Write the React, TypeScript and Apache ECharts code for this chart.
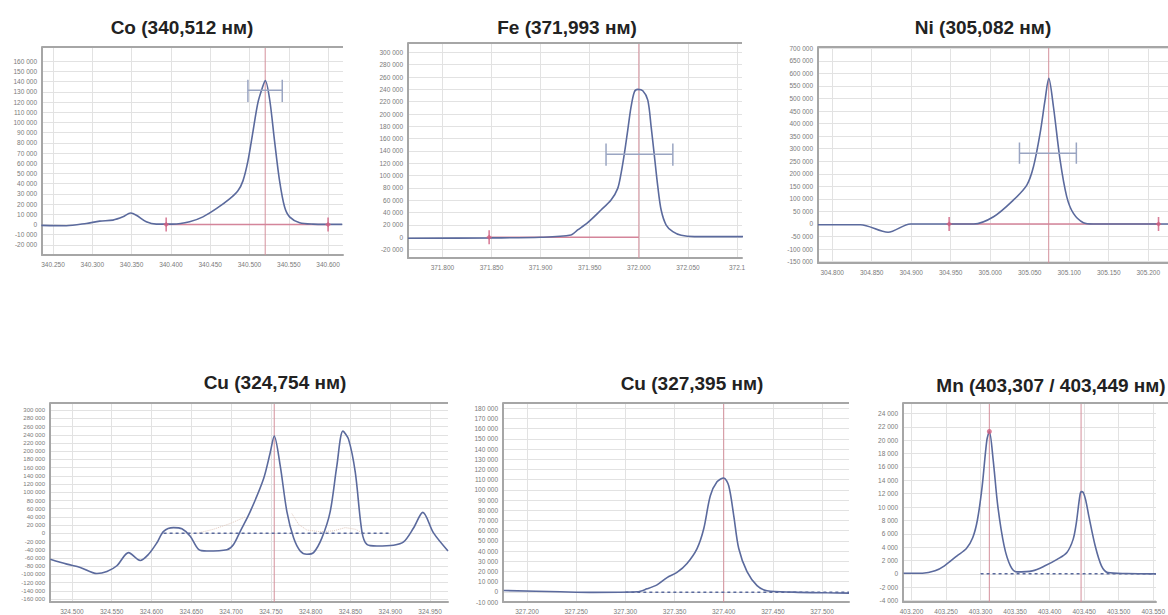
import React, { useEffect, useRef } from "react";
import * as echarts from "echarts";

// ---------- Co (340,512 нм) ----------
const coX = [340.2352, 340.267, 340.2924, 340.3094, 340.3263, 340.339, 340.3488, 340.356, 340.3687, 340.3814, 340.4026, 340.4238, 340.4408, 340.4578, 340.4747, 340.4853, 340.4917, 340.498, 340.5044, 340.5108, 340.5171, 340.5201, 340.5256, 340.532, 340.5383, 340.5447, 340.551, 340.5638, 340.5807, 340.618];
const coY = [-960, -1280, 960, 3200, 4200, 7400, 11200, 9000, 2600, 300, 300, 2600, 7400, 15400, 25000, 33000, 42700, 62000, 90800, 119700, 135800, 141200, 123000, 81200, 42700, 17000, 7400, 1600, 300, 0];
const coXLabels = ["340.250", "340.300", "340.350", "340.400", "340.450", "340.500", "340.550", "340.600"];
const coYTicks = [-20000, -10000, 0, 10000, 20000, 30000, 40000, 50000, 60000, 70000, 80000, 90000, 100000, 110000, 120000, 130000, 140000, 150000, 160000];
const coPeak = [340.52];
const coBase = [340.394, 340.6];
const coErr = [340.498, 340.5417, 131600, 142000, 120000];

// ---------- Fe (371,993 нм) ----------
const feX = [371.765, 371.85, 371.9, 371.9309, 371.9377, 371.9479, 371.9615, 371.9717, 371.9785, 371.9819, 371.9853, 371.9887, 371.9921, 371.9955, 371.9989, 372.004, 372.0091, 372.0125, 372.0159, 372.0193, 372.0227, 372.0278, 372.0346, 372.0431, 372.0567, 372.106];
const feY = [-1500, -1000, 0, 3800, 11900, 23800, 44300, 60500, 79400, 103800, 136200, 174000, 211800, 236100, 239900, 237700, 222600, 179400, 130800, 82200, 44300, 19900, 9100, 3200, 1100, 1100];
const feXLabels = ["371.800", "371.850", "371.900", "371.950", "372.000", "372.050", "372.1"];
const feYTicks = [-20000, 0, 20000, 40000, 60000, 80000, 100000, 120000, 140000, 160000, 180000, 200000, 220000, 240000, 260000, 280000, 300000];
const fePeak = [372.0];
const feBase = [371.8476, 372.0];
const feErr = [371.9666, 372.0346, 134600, 152000, 116000];

// ---------- Ni (305,082 нм) ----------
const niX = [304.782, 304.8358, 304.8707, 304.899, 304.9453, 304.979, 305.0042, 305.0295, 305.0463, 305.0547, 305.0631, 305.0694, 305.0741, 305.08, 305.0884, 305.0968, 305.1053, 305.1179, 305.1305, 305.225];
const niY = [-3000, -3000, -33000, 0, 0, 0, 29000, 96000, 155000, 228000, 361000, 494000, 580000, 467000, 255000, 109000, 42000, 5000, 0, 0];
const niXLabels = ["304.800", "304.850", "304.900", "304.950", "305.000", "305.050", "305.100", "305.150", "305.200"];
const niYTicks = [-150000, -100000, -50000, 0, 50000, 100000, 150000, 200000, 250000, 300000, 350000, 400000, 450000, 500000, 550000, 600000, 650000, 700000];
const niPeak = [305.074];
const niBase = [304.948, 305.213];
const niErr = [305.037, 305.109, 281500, 325000, 240000];

// ---------- Cu (324,754 нм) ----------
const cu1X = [324.4728, 324.4937, 324.5105, 324.5314, 324.544, 324.5565, 324.5712, 324.5858, 324.5963, 324.6068, 324.6152, 324.6277, 324.6382, 324.6487, 324.6591, 324.6696, 324.6947, 324.7031, 324.7115, 324.724, 324.7408, 324.7492, 324.7542, 324.7617, 324.7701, 324.7785, 324.7868, 324.7952, 324.8036, 324.8141, 324.8245, 324.8329, 324.8405, 324.8476, 324.856, 324.8643, 324.8706, 324.8832, 324.9041, 324.9167, 324.9292, 324.9409, 324.9543, 324.9725];
const cu1Y = [-63000, -75000, -83000, -98000, -93000, -79000, -47000, -66000, -51000, -23000, 5000, 14000, 11000, -7000, -39000, -43000, -40000, -27000, 5000, 53000, 133000, 197000, 237000, 165000, 53000, -11000, -43000, -51000, -47000, -11000, 53000, 165000, 249000, 229000, 149000, 5000, -27000, -31000, -29000, -21000, 13000, 51000, 1000, -43000];
const cu1FaintAX = [324.657, 324.678, 324.699, 324.7178];
const cu1FaintAY = [0, 10000, 24000, 40000];
const cu1FaintBX = [324.7764, 324.7848, 324.7952, 324.812, 324.8287, 324.8434, 324.856, 324.8664];
const cu1FaintBY = [48000, 22000, 8000, 4000, 6000, 14000, 10000, 0];
const cu1XLabels = ["324.500", "324.550", "324.600", "324.650", "324.700", "324.750", "324.800", "324.850", "324.900", "324.950"];
const cu1YTicks = [-160000, -140000, -120000, -100000, -80000, -60000, -40000, -20000, 0, 20000, 40000, 60000, 80000, 100000, 120000, 140000, 160000, 180000, 200000, 220000, 240000, 260000, 280000, 300000];
const cu1Peak = [324.7542];
const cu1Dash = [324.6152, 324.8978, 0];

// ---------- Cu (327,395 нм) ----------
const cu2X = [327.1763, 327.2339, 327.2678, 327.3119, 327.322, 327.3322, 327.3424, 327.3525, 327.3627, 327.3729, 327.3797, 327.3864, 327.3932, 327.4, 327.4051, 327.4102, 327.4153, 327.4237, 327.4339, 327.444, 327.4712, 327.5051, 327.5274];
const cu2Y = [1300, 0, -600, 0, 2900, 6800, 13900, 19000, 27800, 42400, 61800, 94200, 107800, 111600, 103900, 74800, 42400, 19700, 6100, 1000, -300, -1000, -1300];
const cu2XLabels = ["327.200", "327.250", "327.300", "327.350", "327.400", "327.450", "327.500"];
const cu2YTicks = [-10000, 0, 10000, 20000, 30000, 40000, 50000, 60000, 70000, 80000, 90000, 100000, 110000, 120000, 130000, 140000, 150000, 160000, 170000, 180000];
const cu2Peak = [327.4];
const cu2Dash = [327.3, 327.5274, -500];

// ---------- Mn (403,307 / 403,449 нм) ----------
const mnX = [403.1886, 403.2159, 403.2341, 403.2477, 403.2659, 403.2795, 403.2886, 403.2955, 403.3023, 403.3091, 403.3127, 403.3182, 403.325, 403.3341, 403.3432, 403.3523, 403.375, 403.3932, 403.4114, 403.425, 403.4341, 403.4386, 403.4432, 403.4455, 403.4486, 403.4523, 403.4568, 403.4659, 403.475, 403.4841, 403.5114, 403.554];
const mnY = [100, 100, 450, 1200, 2700, 3800, 5400, 8100, 13100, 20000, 21300, 17100, 10100, 4200, 1200, 300, 450, 1200, 2200, 3200, 5200, 7600, 11300, 12300, 12200, 11000, 8600, 4200, 1200, 200, 50, 0];
const mnXLabels = ["403.200", "403.250", "403.300", "403.350", "403.400", "403.450", "403.500", "403.550"];
const mnYTicks = [-4000, -2000, 0, 2000, 4000, 6000, 8000, 10000, 12000, 14000, 16000, 18000, 20000, 22000, 24000];
const mnPeak = [403.3127, 403.4455];
const mnDot = [403.3127, 21300];
const mnDash = [403.3, 403.554, 0];

const titles = ["Co (340,512 нм)", "Fe (371,993 нм)", "Ni (305,082 нм)", "Cu (324,754 нм)", "Cu (327,395 нм)", "Mn (403,307 / 403,449 нм)"];

const BLUE = "#5b6a9d";
const RED_V = "#d4909c";
const RED_B = "#d4859a";
const RED_M = "#cf5f7f";
const ERR = "#9aa5c2";
const AXIS = "#a6a6a6";

type Panel = {
  title: string;
  tx: number;
  ty: number;
  grid: { left: number; top: number; width: number; height: number };
  xMin: number;
  xMax: number;
  yMin: number;
  yMax: number;
  xLabels: string[];
  yTicks: number[];
  xs: number[];
  ys: number[];
  ySize: number;
};

const panels: Panel[] = [
  { title: titles[0], tx: 182, ty: 27, grid: { left: 42, top: 47, width: 301, height: 208 }, xMin: 340.236, xMax: 340.619, yMin: -30000, yMax: 174000, xLabels: coXLabels, yTicks: coYTicks, xs: coX, ys: coY, ySize: 6.5 },
  { title: titles[1], tx: 567, ty: 27, grid: { left: 408, top: 43, width: 334, height: 215 }, xMin: 371.765, xMax: 372.105, yMin: -33600, yMax: 315200, xLabels: feXLabels, yTicks: feYTicks, xs: feX, ys: feY, ySize: 6.5 },
  { title: titles[2], tx: 983, ty: 27, grid: { left: 818, top: 47, width: 350, height: 216 }, xMin: 304.782, xMax: 305.225, yMin: -155400, yMax: 705000, xLabels: niXLabels, yTicks: niYTicks, xs: niX, ys: niY, ySize: 6.5 },
  { title: titles[3], tx: 275, ty: 382, grid: { left: 50, top: 403, width: 398, height: 202 }, xMin: 324.4725, xMax: 324.9725, yMin: -167300, yMax: 317600, xLabels: cu1XLabels, yTicks: cu1YTicks, xs: cu1X, ys: cu1Y, ySize: 6 },
  { title: titles[4], tx: 692, ty: 383, grid: { left: 503, top: 403, width: 346, height: 201 }, xMin: 327.1756, xMax: 327.5274, yMin: -10000, yMax: 185100, xLabels: cu2XLabels, yTicks: cu2YTicks, xs: cu2X, ys: cu2Y, ySize: 6.5 },
  { title: titles[5], tx: 1051, ty: 385, grid: { left: 903, top: 403, width: 265, height: 200 }, xMin: 403.1877, xMax: 403.554, yMin: -4210, yMax: 25570, xLabels: mnXLabels, yTicks: mnYTicks, xs: mnX, ys: mnY, ySize: 6.5 },
];

const zip = (xs: number[], ys: number[]) => xs.map((x, i) => [x, ys[i]]);
const fmtThousands = (v: number) => {
  const s = Math.abs(Math.round(v)).toString().replace(/\B(?=(\d{3})+(?!\d))/g, " ");
  return (v < 0 ? "-" : "") + s;
};

function seg(i: number, pts: number[][], color: string, width: number, type: any = "solid", z = 3) {
  return {
    type: "line",
    xAxisIndex: i,
    yAxisIndex: i,
    data: pts,
    showSymbol: false,
    symbol: "none",
    silent: true,
    z,
    lineStyle: { color, width, type },
  };
}

function vlines(i: number, xs: number[], p: Panel) {
  return xs.map((x) => seg(i, [[x, p.yMin], [x, p.yMax]], RED_V, 1, "solid", 2));
}

function errBar(i: number, e: number[]) {
  const [x1, x2, y, yHi, yLo] = e;
  return [
    seg(i, [[x1, y], [x2, y]], ERR, 1.5, "solid", 6),
    seg(i, [[x1, yLo], [x1, yHi]], ERR, 1.5, "solid", 6),
    seg(i, [[x2, yLo], [x2, yHi]], ERR, 1.5, "solid", 6),
  ];
}

function baseWithMarkers(i: number, b: number[], markers: number[]) {
  return [
    seg(i, [[b[0], 0], [b[1], 0]], RED_B, 1.5, "solid", 4),
    {
      type: "scatter",
      xAxisIndex: i,
      yAxisIndex: i,
      data: markers.map((x) => [x, 0]),
      symbol: "rect",
      symbolSize: [1.6, 14],
      itemStyle: { color: RED_M },
      silent: true,
      z: 7,
    },
    {
      type: "scatter",
      xAxisIndex: i,
      yAxisIndex: i,
      data: markers.map((x) => [x, 0]),
      symbol: "diamond",
      symbolSize: [6, 5],
      itemStyle: { color: RED_M, opacity: 0.8 },
      silent: true,
      z: 7,
    },
  ];
}

function dashLine(i: number, d: number[]) {
  return seg(i, [[d[0], d[2]], [d[1], d[2]]], BLUE, 1.5, [3, 3], 4);
}

export default function App() {
  const ref = useRef<HTMLDivElement>(null);
  useEffect(() => {
    if (!ref.current) return;
    const chart = echarts.init(ref.current, undefined, { renderer: "svg" });

    const grids = panels.map((p) => ({
      left: p.grid.left,
      top: p.grid.top,
      width: p.grid.width,
      height: p.grid.height,
      show: true,
      backgroundColor: "#ffffff",
      borderWidth: 0,
    }));

    const xAxes = panels.map((p, i) => {
      const vals = p.xLabels.map((s) => parseFloat(s));
      return {
        type: "value",
        gridIndex: i,
        min: p.xMin,
        max: p.xMax,
        axisLine: { show: true, onZero: false, lineStyle: { color: AXIS, width: 2 } },
        axisTick: { show: false, customValues: vals },
        axisLabel: {
          customValues: vals,
          fontSize: 6.5,
          color: "#7a7a7a",
          margin: 6,
          fontFamily: "Liberation Sans, Arial, sans-serif",
          formatter: (v: number) => {
            const k = vals.findIndex((t) => Math.abs(t - v) < 1e-6);
            return k >= 0 ? p.xLabels[k] : "";
          },
        },
        splitLine: { show: true, lineStyle: { color: "#e2e2e2", width: 1 } },
      };
    });

    const yAxes = panels.map((p, i) => ({
      type: "value",
      gridIndex: i,
      min: p.yMin,
      max: p.yMax,
      axisLine: { show: true, onZero: false, lineStyle: { color: AXIS, width: 2 } },
      axisTick: { show: false, customValues: p.yTicks },
      axisLabel: {
        customValues: p.yTicks,
        fontSize: p.ySize,
        color: "#7a7a7a",
        margin: 5,
        fontFamily: "Liberation Sans, Arial, sans-serif",
        formatter: (v: number) => fmtThousands(v),
      },
      splitLine: { show: true, lineStyle: { color: "#e2e2e2", width: 1 } },
    }));

    const series: any[] = [];
    panels.forEach((p, i) => {
      series.push({
        type: "line",
        xAxisIndex: i,
        yAxisIndex: i,
        data: zip(p.xs, p.ys),
        showSymbol: false,
        symbol: "none",
        smooth: 0.3,
        silent: true,
        z: 5,
        lineStyle: { color: BLUE, width: 1.6 },
      });
    });

    // Co
    series.push(...vlines(0, coPeak, panels[0]));
    series.push(...baseWithMarkers(0, coBase, coBase));
    series.push(...errBar(0, coErr));
    // Fe
    series.push(...vlines(1, fePeak, panels[1]));
    series.push(...baseWithMarkers(1, feBase, [feBase[0]]));
    series.push(...errBar(1, feErr));
    // Ni
    series.push(...vlines(2, niPeak, panels[2]));
    series.push(...baseWithMarkers(2, niBase, niBase));
    series.push(...errBar(2, niErr));
    // Cu 324
    series.push(...vlines(3, cu1Peak, panels[3]));
    series.push(dashLine(3, cu1Dash));
    series.push(seg(3, zip(cu1FaintAX, cu1FaintAY), "#e2cbbf", 1, "dotted", 2));
    series.push(seg(3, zip(cu1FaintBX, cu1FaintBY), "#e2cbbf", 1, "dotted", 2));
    // Cu 327
    series.push(...vlines(4, cu2Peak, panels[4]));
    series.push(dashLine(4, cu2Dash));
    // Mn
    series.push(...vlines(5, mnPeak, panels[5]));
    series.push(dashLine(5, mnDash));
    series.push({
      type: "scatter",
      xAxisIndex: 5,
      yAxisIndex: 5,
      data: [mnDot],
      symbol: "circle",
      symbolSize: 5,
      itemStyle: { color: RED_M },
      silent: true,
      z: 7,
    });

    const graphics: any[] = [];
    panels.forEach((p) => {
      graphics.push({
        type: "line",
        shape: { x1: p.grid.left, y1: p.grid.top, x2: p.grid.left + p.grid.width, y2: p.grid.top },
        style: { stroke: AXIS, lineWidth: 2 },
        silent: true,
        z: 10,
      });
      graphics.push({
        type: "text",
        x: p.tx,
        y: p.ty,
        style: {
          text: p.title,
          font: 'bold 19px "Liberation Sans", Arial, sans-serif',
          fill: "#222222",
          align: "center",
          verticalAlign: "middle",
          textAlign: "center",
          textVerticalAlign: "middle",
        },
        silent: true,
        z: 10,
      });
    });

    chart.setOption({
      animation: false,
      backgroundColor: "#ffffff",
      grid: grids,
      xAxis: xAxes,
      yAxis: yAxes,
      series,
      graphic: graphics,
    });

    return () => chart.dispose();
  }, []);

  return (
    <div
      ref={ref}
      style={{ position: "absolute", left: 0, top: 0, width: 1168, height: 615 }}
    />
  );
}
